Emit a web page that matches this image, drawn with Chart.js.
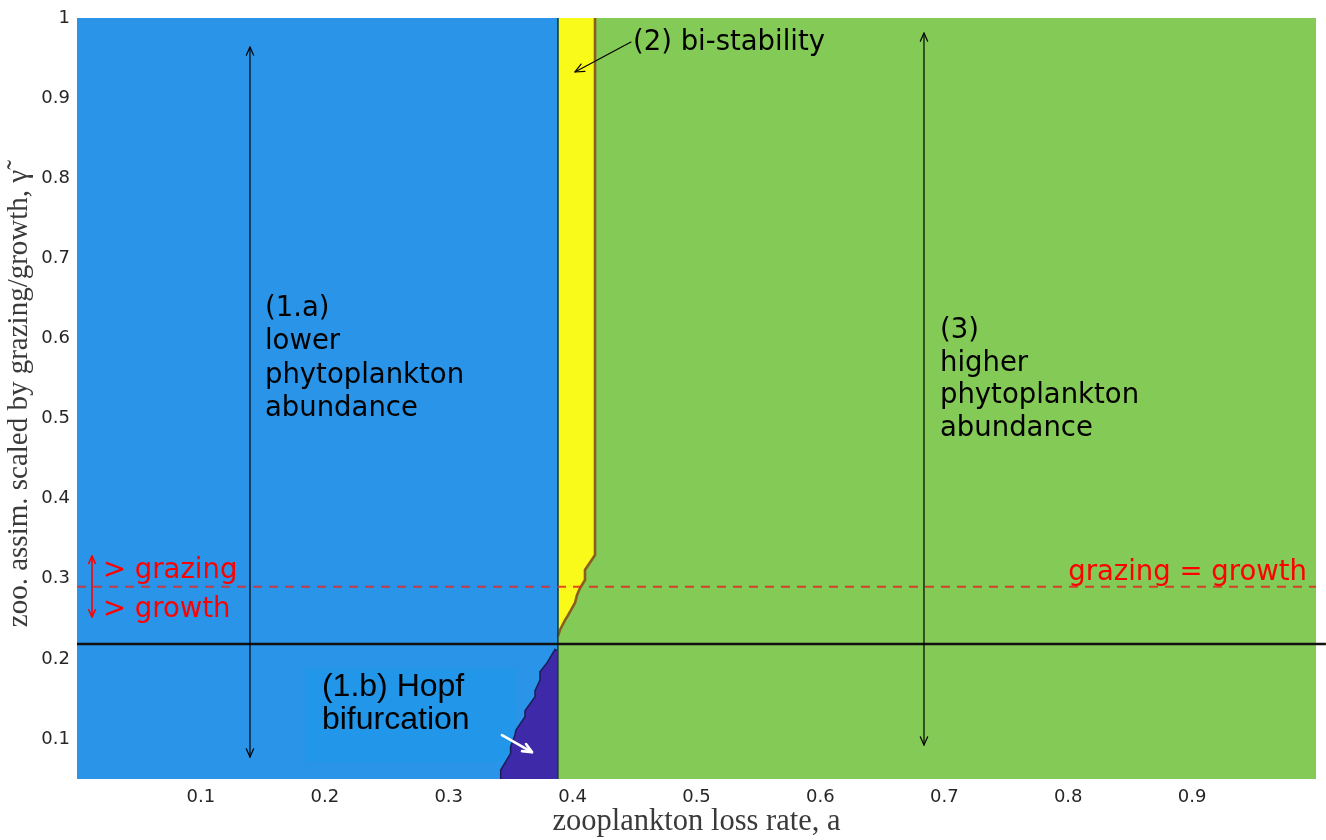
<!DOCTYPE html>
<html>
<head>
<meta charset="utf-8">
<script src="https://cdn.jsdelivr.net/npm/chart.js@4/dist/chart.umd.min.js"></script>
<style>
  html, body { margin: 0; padding: 0; background: #ffffff; }
  #wrap { width: 1326px; height: 840px; position: relative; }
</style>
</head>
<body>
<div id="wrap"><canvas id="c"></canvas></div>
<script>
// ---------------- data ----------------
const xTicks = [0.1, 0.2, 0.3, 0.4, 0.5, 0.6, 0.7, 0.8, 0.9];
const yTicks = [0.1, 0.2, 0.3, 0.4, 0.5, 0.6, 0.7, 0.8, 0.9, 1];
const xRange = [0, 1];
const yRange = [0.05, 1];

// boundary between low-abundance (left) and high-abundance (right) regimes
const regimeSplitX = 0.3881;
// bi-stability strip (left / right edge at top of the plot)
const bistabLeftX = 0.3890;
const bistabRightX = 0.4181;
// right / lower edge of the bi-stability region (staircase)
const bistabEdgeX = [0.3881, 0.3898, 0.3939, 0.3955, 0.4019, 0.4036, 0.4060, 0.4100, 0.4100, 0.4181, 0.4181];
const bistabEdgeY = [0.2280, 0.2360, 0.2484, 0.2522, 0.2697, 0.2797, 0.2884, 0.2984, 0.3109, 0.3296, 1.0000];
// left / upper edge of the Hopf region (staircase)
const hopfEdgeX = [0.3420, 0.3420, 0.3500, 0.3500, 0.3535, 0.3543, 0.3616, 0.3616, 0.3697, 0.3697, 0.3737, 0.3737, 0.3791, 0.3858, 0.3875];
const hopfEdgeY = [0.0500, 0.0612, 0.0820, 0.0903, 0.1049, 0.1111, 0.1278, 0.1352, 0.1527, 0.1602, 0.1735, 0.1839, 0.1944, 0.2119, 0.2100];
// horizontal reference lines
const grazingEqualsGrowthY = 0.29;
const stabilityLineY = 0.2185;

// ---------------- helpers ----------------
const pts = (xs, ys) => xs.map((x, i) => ({ x: x, y: ys[i] }));
const C = {
  blue: '#2a95e8', green: '#84ca56', yellow: '#f9f91a', purple: '#3e2aa8',
  boxBlue: '#2297ea', red: '#ff0000'
};

// green area below the staircase edge of the bi-stability region
const bistabLower = pts(bistabEdgeX.slice(0, 10), bistabEdgeY.slice(0, 10));

const datasets = [
  { // black horizontal line
    data: [{ x: 0, y: stabilityLineY }, { x: 1.008, y: stabilityLineY }],
    borderColor: '#111111', borderWidth: 2.5, fill: false, clip: false
  },
  { // grazing = growth dashed line
    data: [{ x: xRange[0], y: grazingEqualsGrowthY }, { x: xRange[1], y: grazingEqualsGrowthY }],
    borderColor: 'rgba(228,40,35,0.85)', borderWidth: 2, borderDash: [9, 7], fill: false
  },
  { // regime split line
    data: [{ x: regimeSplitX, y: yRange[0] }, { x: regimeSplitX, y: yRange[1] }],
    borderColor: '#1b3838', borderWidth: 1.6, fill: false
  },
  { // bi-stability edge
    data: pts(bistabEdgeX, bistabEdgeY),
    borderColor: '#8a5e1e', borderWidth: 2.6, fill: false
  },
  { // Hopf region
    data: pts(hopfEdgeX, hopfEdgeY),
    borderColor: '#1a1f5c', borderWidth: 1.6, backgroundColor: C.purple, fill: 'start'
  },
  { // green below the bi-stability staircase
    data: bistabLower,
    borderColor: 'rgba(0,0,0,0)', borderWidth: 0, backgroundColor: C.green, fill: 'start'
  },
  { // bi-stability strip
    data: [{ x: bistabLeftX, y: yRange[1] }, { x: bistabRightX, y: yRange[1] }],
    borderColor: 'rgba(0,0,0,0)', borderWidth: 0, backgroundColor: C.yellow, fill: 'start'
  },
  { // higher phytoplankton abundance
    data: [{ x: regimeSplitX, y: yRange[1] }, { x: xRange[1], y: yRange[1] }],
    borderColor: 'rgba(0,0,0,0)', borderWidth: 0, backgroundColor: C.green, fill: 'start'
  },
  { // lower phytoplankton abundance
    data: [{ x: xRange[0], y: yRange[1] }, { x: regimeSplitX, y: yRange[1] }],
    borderColor: 'rgba(0,0,0,0)', borderWidth: 0, backgroundColor: C.blue, fill: 'start'
  }
];

// annotations (anchor in data coordinates)
const texts = [
  { lines: ['(1.a)', 'lower', 'phytoplankton', 'abundance'], x: 0.1517, y: 0.6370, lh: 33.5, font: '27.5px "DejaVu Sans"', color: '#000', align: 'left' },
  { lines: ['(3)', 'higher', 'phytoplankton', 'abundance'], x: 0.6965, y: 0.6095, lh: 32.7, font: '27.5px "DejaVu Sans"', color: '#000', align: 'left' },
  { lines: ['(2) bi-stability'], x: 0.4487, y: 0.9690, lh: 30, font: '27.5px "DejaVu Sans"', color: '#000', align: 'left' },
  { lines: ['(1.b) Hopf', 'bifurcation'], x: 0.1977, y: 0.1650, lh: 33, font: '32px "Liberation Sans"', color: '#000', align: 'left' },
  { lines: ['> grazing'], x: 0.0210, y: 0.3095, lh: 30, font: '27.5px "DejaVu Sans"', color: C.red, align: 'left' },
  { lines: ['> growth'], x: 0.0210, y: 0.2610, lh: 30, font: '27.5px "DejaVu Sans"', color: C.red, align: 'left' },
  { lines: ['grazing = growth'], x: 0.9927, y: 0.3070, lh: 30, font: '27.5px "DejaVu Sans"', color: C.red, align: 'right' }
];
const arrows = [
  { from: [0.1396, 0.9638], to: [0.1396, 0.0774], both: true, color: '#000', width: 1.2, head: 9 },
  { from: [0.6836, 0.9813], to: [0.6836, 0.0924], both: true, color: '#000', width: 1.2, head: 9 },
  { from: [0.4471, 0.9700], to: [0.4019, 0.9326], both: false, color: '#000', width: 1.2, head: 10 },
  { from: [0.0121, 0.3283], to: [0.0121, 0.2522], both: true, color: C.red, width: 1.6, head: 8 },
  { from: [0.3430, 0.1049], to: [0.3672, 0.0836], both: false, color: '#ffffff', width: 2.6, head: 10 }
];
const textBox = { x0: 0.1842, x1: 0.3543, y0: 0.0712, y1: 0.1885 };

function drawHead(ctx, x1, y1, x2, y2, size) {
  const a = Math.atan2(y2 - y1, x2 - x1);
  const s = 0.42;
  ctx.beginPath();
  ctx.moveTo(x2 - size * Math.cos(a - s), y2 - size * Math.sin(a - s));
  ctx.lineTo(x2, y2);
  ctx.lineTo(x2 - size * Math.cos(a + s), y2 - size * Math.sin(a + s));
  ctx.stroke();
}

const annotationPlugin = {
  id: 'annot',
  afterDatasetDraw(chart, args) {
    // label box of the Hopf annotation, drawn beneath the Hopf region
    if (args.index !== 5) return;
    const ctx = chart.ctx, xs = chart.scales.x, ys = chart.scales.y;
    ctx.save();
    ctx.fillStyle = C.boxBlue;
    const bx0 = xs.getPixelForValue(textBox.x0), bx1 = xs.getPixelForValue(textBox.x1);
    const by0 = ys.getPixelForValue(textBox.y1), by1 = ys.getPixelForValue(textBox.y0);
    ctx.fillRect(bx0, by0, bx1 - bx0, by1 - by0);
    ctx.restore();
  },
  afterDatasetsDraw(chart) {
    const ctx = chart.ctx, xs = chart.scales.x, ys = chart.scales.y;
    ctx.save();
    arrows.forEach(a => {
      const x1 = xs.getPixelForValue(a.from[0]), y1 = ys.getPixelForValue(a.from[1]);
      const x2 = xs.getPixelForValue(a.to[0]), y2 = ys.getPixelForValue(a.to[1]);
      ctx.strokeStyle = a.color; ctx.lineWidth = a.width; ctx.lineCap = 'round'; ctx.lineJoin = 'round';
      ctx.setLineDash([]);
      ctx.beginPath(); ctx.moveTo(x1, y1); ctx.lineTo(x2, y2); ctx.stroke();
      drawHead(ctx, x1, y1, x2, y2, a.head);
      if (a.both) drawHead(ctx, x2, y2, x1, y1, a.head);
    });
    texts.forEach(t => {
      ctx.font = t.font; ctx.fillStyle = t.color; ctx.textAlign = t.align; ctx.textBaseline = 'middle';
      const px = xs.getPixelForValue(t.x), py = ys.getPixelForValue(t.y);
      t.lines.forEach((ln, i) => ctx.fillText(ln, px, py + i * t.lh));
    });
    ctx.restore();
  }
};

Chart.defaults.font.family = '"DejaVu Sans"';
new Chart(document.getElementById('c'), {
  type: 'line',
  data: { datasets: datasets },
  options: {
    responsive: true,
    maintainAspectRatio: false,
    animation: false,
    elements: { point: { radius: 0, hoverRadius: 0 }, line: { tension: 0 } },
    layout: { padding: { top: 18, right: 10, left: 0, bottom: 0 } },
    plugins: { legend: { display: false }, tooltip: { enabled: false } },
    events: [],
    scales: {
      x: {
        type: 'linear', min: xRange[0], max: xRange[1],
        grid: { display: false, drawTicks: false }, border: { display: false },
        afterBuildTicks: s => { s.ticks = xTicks.map(v => ({ value: v })); },
        afterFit: s => { s.height = 61; },
        ticks: { color: '#262626', font: { size: 18, family: '"DejaVu Sans"' }, padding: 8, maxRotation: 0,
                 callback: v => String(+v.toFixed(2)) },
        title: { display: true, text: 'zooplankton loss rate, a', color: '#3a3a3a',
                 font: { size: 30.5, family: '"Liberation Serif"' }, padding: { top: 0, bottom: 0 } }
      },
      y: {
        type: 'linear', min: yRange[0], max: yRange[1],
        grid: { display: false, drawTicks: false }, border: { display: false },
        afterBuildTicks: s => { s.ticks = yTicks.map(v => ({ value: v })); },
        afterFit: s => { s.width = 77; },
        ticks: { color: '#262626', font: { size: 18, family: '"DejaVu Sans"' }, padding: 7,
                 callback: v => String(+v.toFixed(2)) },
        title: { display: true, text: 'zoo. assim. scaled by grazing/growth, γ\u0303', color: '#3a3a3a',
                 font: { size: 29, family: '"Liberation Serif"' }, padding: { top: 2, bottom: 0 } }
      }
    }
  },
  plugins: [annotationPlugin]
});
</script>
</body>
</html>
